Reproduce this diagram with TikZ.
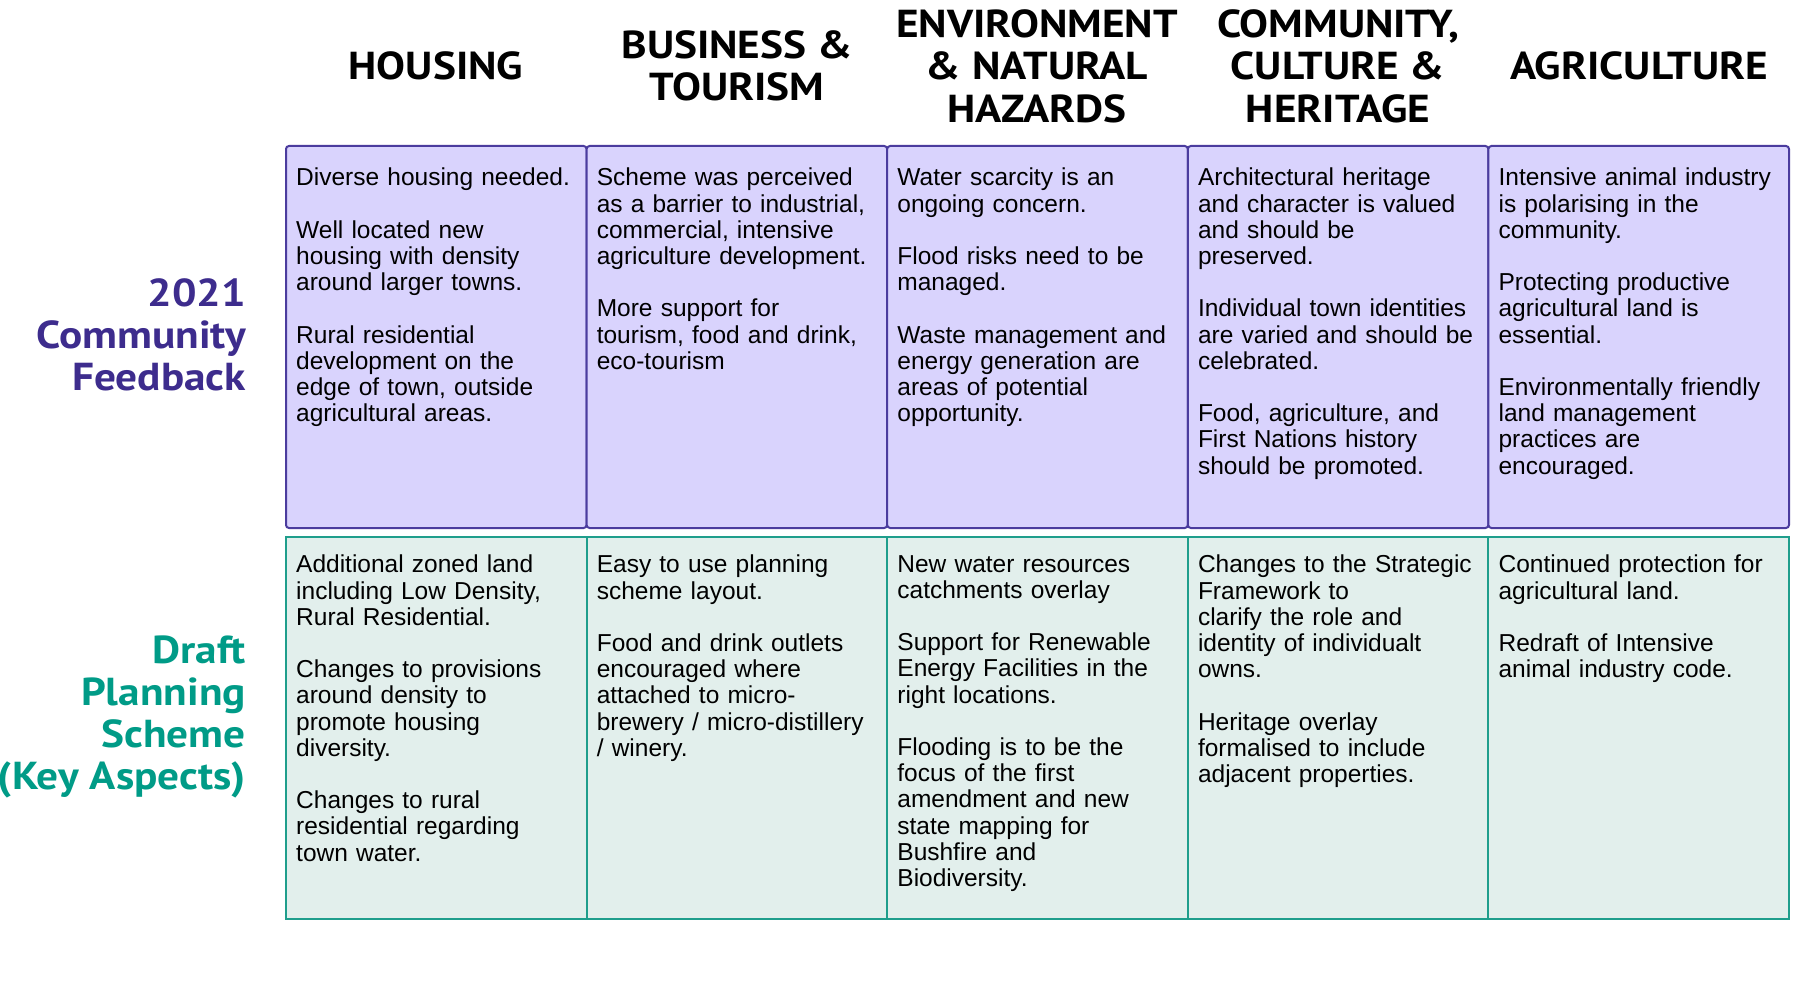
\documentclass[tikz,border=0pt]{standalone}
\usepackage{fontspec}
\setmainfont{Liberation Sans}
\newfontfamily\headfont[FakeStretch=1.11]{PT Sans}
\definecolor{pborder}{HTML}{4B3C9E}
\definecolor{pfill}{HTML}{D9D3FD}
\definecolor{plabel}{HTML}{3D2C8D}
\definecolor{tborder}{HTML}{1F9E8C}
\definecolor{tfill}{HTML}{E2EFEC}
\definecolor{tlabel}{HTML}{009B87}
\newcommand\parbrk{\\[26.2pt]}
\begin{document}
\begin{tikzpicture}[x=1pt,y=-1pt,
  pbox/.style={draw=pborder,fill=pfill,line width=2pt,rounded corners=3pt,
    anchor=north west,minimum width=300.6pt,minimum height=382pt,inner sep=0pt,outer sep=0pt},
  tbox/.style={draw=tborder,fill=tfill,line width=2pt,
    anchor=north west,minimum width=300.6pt,minimum height=382pt,inner sep=0pt,outer sep=0pt},
  cell/.style={anchor=north west,inner sep=0pt,text width=290pt,align=left,
    font=\fontsize{24.5}{26.2}\selectfont},
  colhead/.style={anchor=center,inner sep=0pt,align=center,
    font=\headfont\bfseries\fontsize{39}{42.5}\selectfont},
  rowhead/.style={anchor=east,inner sep=0pt,align=right,
    font=\headfont\bfseries\fontsize{39}{42}\selectfont}]
\useasboundingbox (0,0) rectangle (1800,1000);
\fill[white] (0,0) rectangle (1800,1000);

% column headers
\node[colhead] (h1) at (436,66) {HOUSING};
\node[colhead] (h2) at (737,66) {BUSINESS \&\\TOURISM};
\node[colhead] (h3) at (1037,66) {ENVIRONMENT\\\& NATURAL\\HAZARDS};
\node[colhead] (h4) at (1338,66) {COMMUNITY,\\CULTURE \&\\HERITAGE};
\node[colhead] (h5) at (1639,66) {AGRICULTURE};

% row headers
\node[rowhead,text=plabel] (r1) at (246,335) {2021\\Community\\Feedback};
\node[rowhead,text=tlabel] (r2) at (246,717) {Draft\\Planning\\Scheme\\(Key Aspects)};

% purple boxes
\node[pbox] (p1) at (286,146) {};
\node[pbox] (p2) at (586.6,146) {};
\node[pbox] (p3) at (887.2,146) {};
\node[pbox] (p4) at (1187.8,146) {};
\node[pbox] (p5) at (1488.4,146) {};

% teal boxes
\node[tbox] (t1) at (286,537) {};
\node[tbox] (t2) at (586.6,537) {};
\node[tbox] (t3) at (887.2,537) {};
\node[tbox] (t4) at (1187.8,537) {};
\node[tbox] (t5) at (1488.4,537) {};

% purple texts
\node[cell] (pc1) at (296,168) {Diverse housing needed.\parbrk
Well located new\\housing with density\\around larger towns.\parbrk
Rural residential\\development on the\\edge of town, outside\\agricultural areas.};
\node[cell] (pc2) at (596.6,168) {Scheme was perceived\\as a barrier to industrial,\\commercial, intensive\\agriculture development.\parbrk
More support for\\tourism, food and drink,\\eco-tourism};
\node[cell] (pc3) at (897.2,168) {Water scarcity is an\\ongoing concern.\parbrk
Flood risks need to be\\managed.\parbrk
Waste management and\\energy generation are\\areas of potential\\opportunity.};
\node[cell] (pc4) at (1197.8,168) {Architectural heritage\\and character is valued\\and should be\\preserved.\parbrk
Individual town identities\\are varied and should be\\celebrated.\parbrk
Food, agriculture, and\\First Nations history\\should be promoted.};
\node[cell] (pc5) at (1498.4,168) {Intensive animal industry\\is polarising in the\\community.\parbrk
Protecting productive\\agricultural land is\\essential.\parbrk
Environmentally friendly\\land management\\practices are\\encouraged.};

% teal texts
\node[cell] (tc1) at (296,555) {Additional zoned land\\including Low Density,\\Rural Residential.\parbrk
Changes to provisions\\around density to\\promote housing\\diversity.\parbrk
Changes to rural\\residential regarding\\town water.};
\node[cell] (tc2) at (596.6,555) {Easy to use planning\\scheme layout.\parbrk
Food and drink outlets\\encouraged where\\attached to micro-\\brewery / micro-distillery\\/ winery.};
\node[cell] (tc3) at (897.2,555) {New water resources\\catchments overlay\parbrk
Support for Renewable\\Energy Facilities in the\\right locations.\parbrk
Flooding is to be the\\focus of the first\\amendment and new\\state mapping for\\Bushfire and\\Biodiversity.};
\node[cell] (tc4) at (1197.8,555) {Changes to the Strategic\\Framework to\\clarify the role and\\identity of individualt\\owns.\parbrk
Heritage overlay\\formalised to include\\adjacent properties.};
\node[cell] (tc5) at (1498.4,555) {Continued protection for\\agricultural land.\parbrk
Redraft of Intensive\\animal industry code.};
\end{tikzpicture}
\end{document}
